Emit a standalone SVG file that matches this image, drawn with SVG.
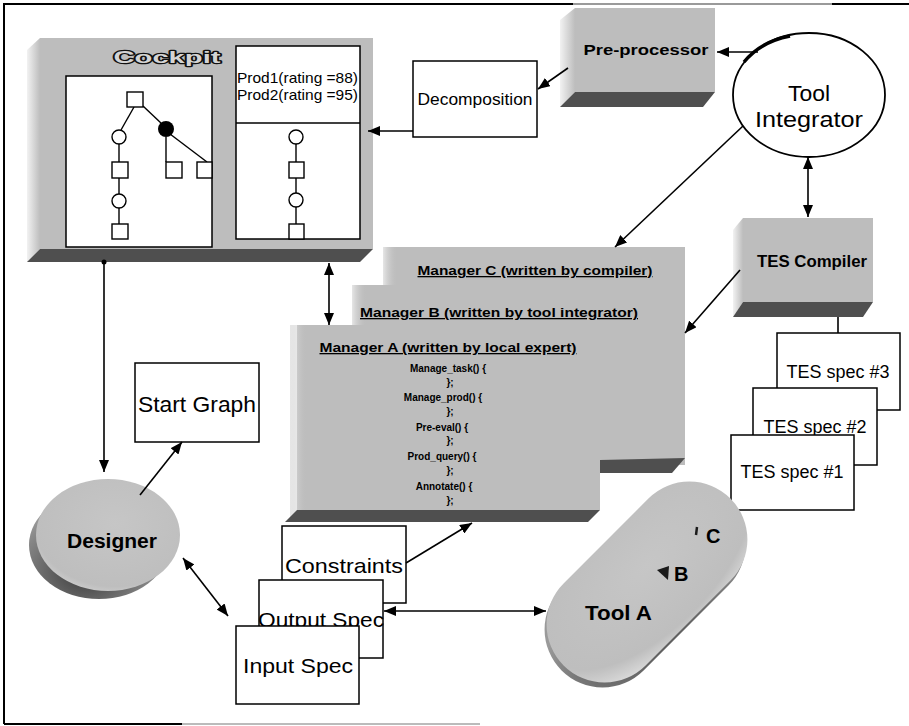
<svg xmlns="http://www.w3.org/2000/svg" width="909" height="726" viewBox="0 0 909 726">
<defs>
  <marker id="ah" viewBox="0 0 12 10" refX="12" refY="5" markerWidth="12" markerHeight="10" markerUnits="userSpaceOnUse" orient="auto-start-reverse">
    <path d="M0,0 L12,5 L0,10 z" fill="#000"/>
  </marker>
  <linearGradient id="side" x1="0" y1="0" x2="1" y2="0">
    <stop offset="0" stop-color="#f2f2f2"/>
    <stop offset="1" stop-color="#bdbdbd"/>
  </linearGradient>
  <linearGradient id="edge" x1="0" y1="0" x2="1" y2="0">
    <stop offset="0" stop-color="#e6e6e6"/>
    <stop offset="1" stop-color="#c0c0c0" stop-opacity="0"/>
  </linearGradient>
  <radialGradient id="discG" cx="0.55" cy="0.4" r="0.7">
    <stop offset="0" stop-color="#c6c6c6"/>
    <stop offset="0.8" stop-color="#bebebe"/>
    <stop offset="1" stop-color="#dadada"/>
  </radialGradient>
  <radialGradient id="shadowG" cx="0.4" cy="0.75" r="0.6">
    <stop offset="0" stop-color="#3a3a3a"/>
    <stop offset="1" stop-color="#9a9a9a"/>
  </radialGradient>
</defs>
<style>
  .frame{fill:none;stroke:#000;stroke-width:2}
  .box{fill:#fff;stroke:#000;stroke-width:1.5}
  .face{fill:#bdbdbd}
  .side{fill:url(#side)}
  .edge{fill:url(#edge)}
  .bevel{fill:#4f4f4f}
  .conn{fill:none;stroke:#000;stroke-width:1.6}
  .arr{marker-end:url(#ah)}
  .arr2{marker-start:url(#ah);marker-end:url(#ah)}
  .t{font-family:"Liberation Sans",Arial,Helvetica,sans-serif;fill:#000}
  .b{font-weight:bold}
  .mid{text-anchor:middle}
  .emb{fill:#d4d4d4;stroke:#111;stroke-width:2.4;paint-order:stroke;stroke-linejoin:round}
  .tree{fill:#fff;stroke:#000;stroke-width:1.4}
  .tl{stroke:#000;stroke-width:1.4}
  .ul{text-decoration:underline}
</style>

<!-- frame -->
<path class="frame" d="M4,724 L4,4 L573,4"/>
<path d="M573,4 L832,4" stroke="#9a9a9a" stroke-width="2"/>
<path class="frame" d="M832,4 L909,4"/>
<path d="M4,724 L182,724" stroke="#000" stroke-width="2"/>
<path d="M182,724 L480,724" stroke="#bbb" stroke-width="2"/>

<!-- Cockpit -->
<g id="cockpit">
  <rect class="face" x="40" y="38" width="333" height="211"/>
  <polygon class="side" points="27,50 40,38 40,249 27,262"/>
  <polygon class="bevel" points="40,249 373,249 360,262 27,262"/>
  <text class="t b mid emb" x="167" y="63" font-size="17" textLength="107" lengthAdjust="spacingAndGlyphs">Cockpit</text>
  <rect class="box" x="66" y="76" width="146" height="171"/>
  <rect class="box" x="236" y="46" width="124" height="193"/>
  <line class="tl" x1="236" y1="123" x2="360" y2="123"/>
  <text class="t" x="237" y="83" font-size="15" textLength="121" lengthAdjust="spacingAndGlyphs">Prod1(rating =88)</text>
  <text class="t" x="237" y="100" font-size="15" textLength="121" lengthAdjust="spacingAndGlyphs">Prod2(rating =95)</text>
  <!-- left tree -->
  <line class="tl" x1="134" y1="107" x2="121" y2="130"/>
  <line class="tl" x1="143" y1="106" x2="162" y2="124"/>
  <line class="tl" x1="119" y1="144" x2="119" y2="162"/>
  <line class="tl" x1="119" y1="178" x2="119" y2="194"/>
  <line class="tl" x1="119" y1="208" x2="119" y2="224"/>
  <line class="tl" x1="166" y1="137" x2="166" y2="162"/>
  <line class="tl" x1="170" y1="134" x2="207" y2="162"/>
  <rect class="tree" x="127" y="92" width="16" height="15"/>
  <circle class="tree" cx="119" cy="137" r="7"/>
  <circle cx="166" cy="129" r="8" fill="#000"/>
  <rect class="tree" x="112" y="162" width="16" height="16"/>
  <circle class="tree" cx="119" cy="201" r="7"/>
  <rect class="tree" x="112" y="224" width="16" height="15"/>
  <rect class="tree" x="166" y="162" width="16" height="16"/>
  <rect class="tree" x="197" y="162" width="15" height="16"/>
  <!-- right tree -->
  <line class="tl" x1="296" y1="144" x2="296" y2="162"/>
  <line class="tl" x1="296" y1="178" x2="296" y2="193"/>
  <line class="tl" x1="296" y1="207" x2="296" y2="224"/>
  <circle class="tree" cx="296" cy="137" r="7"/>
  <rect class="tree" x="289" y="162" width="15" height="16"/>
  <circle class="tree" cx="296" cy="200" r="7"/>
  <rect class="tree" x="289" y="224" width="15" height="15"/>
</g>

<!-- Decomposition -->
<g id="decomposition">
  <rect class="box" x="413" y="61" width="124" height="76"/>
  <text class="t mid" x="475" y="105" font-size="17" textLength="115" lengthAdjust="spacingAndGlyphs">Decomposition</text>
</g>

<!-- Pre-processor -->
<g id="preprocessor">
  <rect class="face" x="575" y="8" width="140" height="84"/>
  <polygon class="side" points="560,20 575,8 575,92 560,107"/>
  <polygon class="bevel" points="575,92 715,92 703,107 560,107"/>
  <text class="t b mid" x="646" y="55" font-size="15" fill="#1a1a1a" textLength="125" lengthAdjust="spacingAndGlyphs">Pre-processor</text>
</g>

<!-- Tool Integrator -->
<g id="toolintegrator">
  <ellipse cx="809" cy="95" rx="76" ry="62" fill="#fff" stroke="#000" stroke-width="1.8"/>
  <path d="M744,62 A76,62 0 0 1 790,36" fill="none" stroke="#000" stroke-width="3.5"/>
  <text class="t mid" x="809" y="101" font-size="22" textLength="42" lengthAdjust="spacingAndGlyphs">Tool</text>
  <text class="t mid" x="809" y="127" font-size="22" textLength="108" lengthAdjust="spacingAndGlyphs">Integrator</text>
</g>

<!-- Managers -->
<g id="managerC">
  <rect class="face" x="383" y="247" width="302" height="218"/>
  <rect class="edge" x="383" y="247" width="14" height="218"/>
  <text class="t b mid ul" x="535" y="275" font-size="13" textLength="235" lengthAdjust="spacingAndGlyphs">Manager C (written by compiler)</text>
</g>
<g id="managerB">
  <rect class="face" x="352" y="285" width="333" height="175"/>
  <rect class="edge" x="352" y="285" width="14" height="175"/>
  <polygon class="bevel" points="600,460 685,458 672,473 600,473"/>
  <text class="t b mid ul" x="499" y="317" font-size="13" textLength="278" lengthAdjust="spacingAndGlyphs">Manager B (written by tool integrator)</text>
</g>
<g id="managerA">
  <rect class="face" x="297" y="325" width="303" height="185"/>
  <rect class="edge" x="290" y="325" width="16" height="195"/>
  <polygon class="bevel" points="297,510 600,510 588,522 285,522"/>
  <text class="t b mid ul" x="448" y="352" font-size="13" textLength="257" lengthAdjust="spacingAndGlyphs">Manager A (written by local expert)</text>
  <g class="t b mid" font-size="10">
    <text x="448" y="372">Manage_task() {</text>
    <text x="450" y="386">};</text>
    <text x="443" y="401">Manage_prod() {</text>
    <text x="450" y="415">};</text>
    <text x="442" y="431">Pre-eval() {</text>
    <text x="450" y="444">};</text>
    <text x="442" y="460">Prod_query() {</text>
    <text x="450" y="474">};</text>
    <text x="444" y="490">Annotate() {</text>
    <text x="450" y="504">};</text>
  </g>
</g>

<!-- TES Compiler -->
<g id="tescompiler">
  <rect class="face" x="743" y="218" width="130" height="84"/>
  <polygon class="side" points="733,230 743,218 743,302 733,317"/>
  <polygon class="bevel" points="743,302 873,302 863,317 733,317"/>
  <text class="t b mid" x="812" y="267" font-size="16" fill="#111" textLength="110" lengthAdjust="spacingAndGlyphs">TES Compiler</text>
</g>

<!-- TES specs -->
<g id="tesspec3">
  <rect class="box" x="777" y="333" width="123" height="77"/>
  <text class="t mid" x="838" y="378" font-size="18" textLength="103" lengthAdjust="spacingAndGlyphs">TES spec #3</text>
</g>
<g id="tesspec2">
  <rect class="box" x="753" y="388" width="124" height="77"/>
  <text class="t mid" x="815" y="433" font-size="18" textLength="103" lengthAdjust="spacingAndGlyphs">TES spec #2</text>
</g>
<g id="tesspec1">
  <rect class="box" x="731" y="435" width="123" height="75"/>
  <text class="t mid" x="792" y="478" font-size="18" textLength="103" lengthAdjust="spacingAndGlyphs">TES spec #1</text>
</g>

<!-- Start Graph -->
<g id="startgraph">
  <rect class="box" x="135" y="363" width="124" height="79"/>
  <text class="t mid" x="197" y="412" font-size="22" textLength="118" lengthAdjust="spacingAndGlyphs">Start Graph</text>
</g>

<!-- Designer -->
<g id="designer">
  <ellipse cx="99" cy="545" rx="70" ry="54" fill="url(#shadowG)"/>
  <ellipse cx="108" cy="535" rx="72" ry="56" fill="url(#discG)"/>
  <text class="t b mid" x="112" y="548" font-size="20" fill="#1a1a1a" textLength="90" lengthAdjust="spacingAndGlyphs">Designer</text>
</g>

<!-- Specs -->
<g id="constraints">
  <rect class="box" x="282" y="526" width="124" height="77"/>
  <text class="t mid" x="344" y="573" font-size="21" textLength="118" lengthAdjust="spacingAndGlyphs">Constraints</text>
</g>
<g id="outputspec">
  <rect class="box" x="259" y="580" width="124" height="78"/>
  <text class="t mid" x="321" y="627" font-size="21" textLength="126" lengthAdjust="spacingAndGlyphs">Output Spec</text>
</g>
<g id="inputspec">
  <rect class="box" x="236" y="626" width="123" height="78"/>
  <text class="t mid" x="298" y="673" font-size="21" textLength="110" lengthAdjust="spacingAndGlyphs">Input Spec</text>
</g>

<!-- Tools -->
<g id="tools">
  <g transform="translate(645,587) rotate(-45)">
    <rect x="-118" y="-58" width="236" height="116" rx="58" fill="url(#shadowG)"/>
  </g>
  <g transform="translate(647,582) rotate(-45)">
    <rect x="-118" y="-58" width="236" height="116" rx="58" fill="url(#discG)"/>
  </g>
  <text class="t b" x="585" y="620" font-size="20" fill="#1a1a1a" textLength="67" lengthAdjust="spacingAndGlyphs">Tool A</text>
  <polygon points="657,570 669,566 668,580" fill="#1a1a1a"/>
  <text class="t b" x="674" y="581" font-size="20" fill="#1a1a1a">B</text>
  <line x1="697" y1="527" x2="696" y2="535" stroke="#1a1a1a" stroke-width="2.5"/>
  <text class="t b" x="706" y="543" font-size="20" fill="#1a1a1a">C</text>
</g>

<!-- connectors -->
<g id="connectors">
  <path class="conn arr" d="M413,131 L368,131"/>
  <path class="conn arr" d="M568,68 L538,89"/>
  <path class="conn arr" d="M758,52 L717,52"/>
  <path class="conn arr" d="M743,126 L615,247"/>
  <path class="conn arr2" d="M808,157 L808,217"/>
  <path class="conn arr" d="M740,270 L685,333"/>
  <path class="conn" d="M838,317 L838,333"/>
  <path class="conn arr2" d="M329,263 L329,325"/>
  <circle cx="104" cy="262" r="2.5" fill="#000"/>
  <path class="conn arr" d="M104,262 L104,472"/>
  <path class="conn arr" d="M140,495 L182,442"/>
  <path class="conn arr2" d="M183,558 L228,616"/>
  <path class="conn arr" d="M406,563 L472,523"/>
  <path class="conn arr2" d="M384,611 L546,611"/>
</g>
</svg>
